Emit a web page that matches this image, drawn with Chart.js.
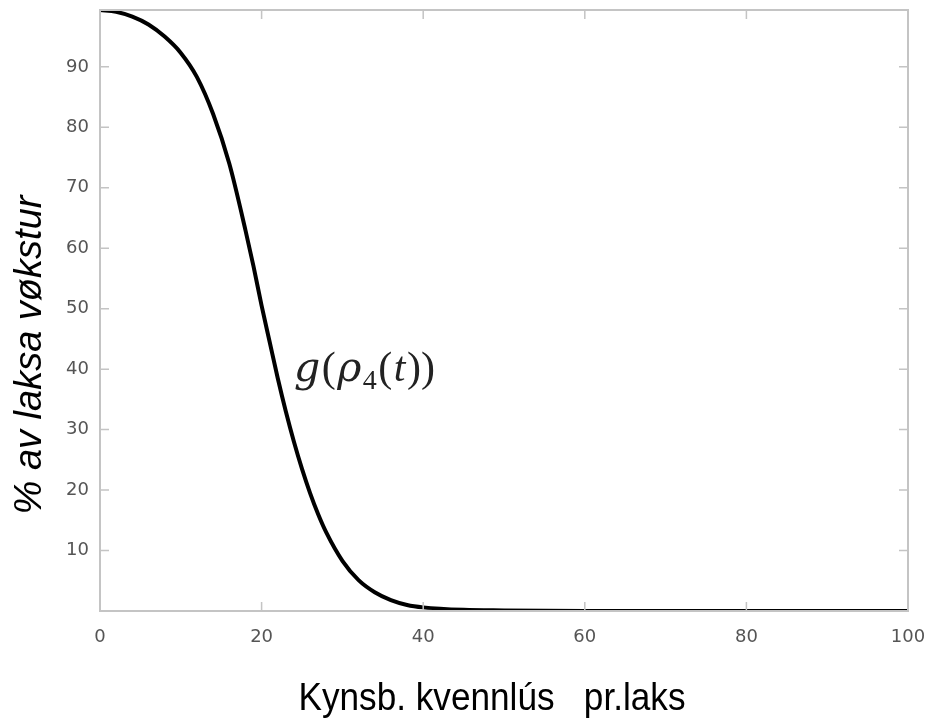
<!DOCTYPE html>
<html>
<head>
<meta charset="utf-8">
<script src="https://cdn.jsdelivr.net/npm/chart.js@4.4.0/dist/chart.umd.min.js"></script>
<style>
  html, body { margin: 0; padding: 0; background: #fff; }
  #wrap { width: 932px; height: 723px; }
</style>
</head>
<body>
<div id="wrap"><canvas id="c" width="932" height="723"></canvas></div>
<script>
// --- data ---
const xValues = [0, 2, 4, 6, 8, 10, 12, 14, 16, 18, 19, 20, 21, 22, 23, 24, 25, 26, 27, 28, 30, 32, 34, 36, 38, 40, 45, 50, 60, 80, 100];
const yValues = [99.4, 99.1, 98.3, 97, 95, 92.3, 88.3, 82.2, 74, 63, 57, 50.5, 44.5, 38.5, 33, 28, 23.5, 19.5, 16, 13, 8.3, 5.1, 3.1, 1.8, 1.0, 0.6, 0.2, 0.1, 0, 0, 0];
const xTicks = [0, 20, 40, 60, 80, 100];
const yTicks = [10, 20, 30, 40, 50, 60, 70, 80, 90];
const curveLabelAt = { x: 24, y: 40 };
const xTitle = "Kynsb. kvennlús   pr.laks";
const yTitle = "% av laksa vøkstur";

const frameColor = "#c4c4c4";
const tickColor = "#555";

// Frame on all four sides, with short ticks pointing inward
const framePlugin = {
    id: "frame",
    afterDatasetsDraw(chart) {
        const { ctx, chartArea: a, scales } = chart;
        ctx.save();
        ctx.strokeStyle = frameColor;
        ctx.lineWidth = 2;
        ctx.strokeRect(a.left, a.top, a.right - a.left, a.bottom - a.top);
        ctx.lineWidth = 1.5;
        ctx.beginPath();
        xTicks.slice(1, -1).forEach((v) => {
            const px = scales.x.getPixelForValue(v);
            ctx.moveTo(px, a.bottom); ctx.lineTo(px, a.bottom - 9);
            ctx.moveTo(px, a.top); ctx.lineTo(px, a.top + 9);
        });
        yTicks.forEach((v) => {
            const py = scales.y.getPixelForValue(v);
            ctx.moveTo(a.left, py); ctx.lineTo(a.left + 9, py);
            ctx.moveTo(a.right, py); ctx.lineTo(a.right - 9, py);
        });
        ctx.stroke();
        ctx.restore();
    },
};

// Curve label g(rho_4(t)) in a LaTeX-like serif
const labelPlugin = {
    id: "curveLabel",
    afterDatasetsDraw(chart) {
        const { ctx, scales } = chart;
        let px = scales.x.getPixelForValue(curveLabelAt.x);
        const py = scales.y.getPixelForValue(curveLabelAt.y);
        const parts = [
            ["italic 41px 'DejaVu Serif'", "g", 0],
            ["42px 'Liberation Serif'", "(", 0],
            ["italic 41px 'DejaVu Serif'", "\u03C1", 0],
            ["28px 'Liberation Serif'", "4", 8],
            ["42px 'Liberation Serif'", "(", 0],
            ["italic 42px 'Liberation Serif'", "t", 0],
            ["42px 'Liberation Serif'", "))", 0],
        ];
        ctx.save();
        ctx.fillStyle = "#222";
        ctx.textBaseline = "alphabetic";
        parts.forEach(([font, txt, dy]) => {
            ctx.font = font;
            ctx.fillText(txt, px, py + 12 + dy);
            px += ctx.measureText(txt).width + 1.5;
        });
        ctx.restore();
    },
};

// Axis titles: a condensed sans for x, italic sans for y
const titlePlugin = {
    id: "titles",
    afterDraw(chart) {
        const { ctx } = chart;
        ctx.save();
        ctx.fillStyle = "#000";
        ctx.textAlign = "center";
        ctx.textBaseline = "alphabetic";
        ctx.font = "38px 'Liberation Sans'";
        const w = ctx.measureText(xTitle).width;
        ctx.translate(492, 710);
        ctx.scale(387 / w, 1);
        ctx.fillText(xTitle, 0, 0);
        ctx.restore();

        ctx.save();
        ctx.fillStyle = "#000";
        ctx.textAlign = "center";
        ctx.textBaseline = "middle";
        ctx.font = "italic 38px 'Liberation Sans'";
        ctx.translate(30, 355);
        ctx.rotate(-Math.PI / 2);
        ctx.fillText(yTitle, 0, 0);
        ctx.restore();
    },
};

new Chart(document.getElementById("c"), {
    type: "line",
    data: {
        datasets: [
            {
                data: xValues.map((x, i) => ({ x: x, y: yValues[i] })),
                borderColor: "#000",
                borderWidth: 4,
                pointRadius: 0,
                cubicInterpolationMode: "monotone",
                fill: false,
            },
        ],
    },
    options: {
        responsive: false,
        animation: false,
        layout: { padding: { top: 10, right: 24, left: 0, bottom: 0 } },
        scales: {
            x: {
                type: "linear",
                min: 0,
                max: 100,
                afterBuildTicks: (s) => { s.ticks = xTicks.map((v) => ({ value: v })); },
                afterFit: (s) => {
                    s.height = 112;
                    s.paddingLeft = 0;
                    s.paddingRight = 0;
                },
                grid: { display: false, drawTicks: false },
                border: { display: false },
                ticks: {
                    color: tickColor,
                    font: { family: "DejaVu Sans", size: 18 },
                    padding: 16,
                    maxRotation: 0,
                },
            },
            y: {
                type: "linear",
                min: 0,
                max: 99.4,
                afterBuildTicks: (s) => { s.ticks = yTicks.map((v) => ({ value: v })); },
                afterFit: (s) => {
                    s.width = 100;
                    s.paddingTop = 0;
                    s.paddingBottom = 0;
                },
                grid: { display: false, drawTicks: false },
                border: { display: false },
                ticks: {
                    color: tickColor,
                    font: { family: "DejaVu Sans", size: 18 },
                    padding: 11,
                },
            },
        },
        plugins: {
            legend: { display: false },
            tooltip: { enabled: false },
        },
    },
    plugins: [framePlugin, labelPlugin, titlePlugin],
});
</script>
</body>
</html>
